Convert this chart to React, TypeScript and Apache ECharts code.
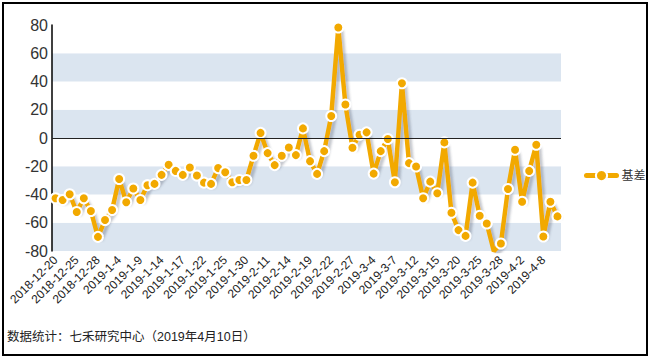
import React, { useEffect, useRef } from "react";
import * as echarts from "echarts";

const dates: string[] = [
  "2018-12-20", "2018-12-21", "2018-12-24", "2018-12-25", "2018-12-26", "2018-12-27", "2018-12-28",
  "2019-1-2", "2019-1-3", "2019-1-4", "2019-1-7", "2019-1-8", "2019-1-9", "2019-1-10", "2019-1-11",
  "2019-1-14", "2019-1-15", "2019-1-16", "2019-1-17", "2019-1-18", "2019-1-21", "2019-1-22", "2019-1-23",
  "2019-1-24", "2019-1-25", "2019-1-28", "2019-1-29", "2019-1-30", "2019-1-31", "2019-2-1",
  "2019-2-11", "2019-2-12", "2019-2-13", "2019-2-14", "2019-2-15", "2019-2-18", "2019-2-19", "2019-2-20",
  "2019-2-21", "2019-2-22", "2019-2-25", "2019-2-26", "2019-2-27", "2019-2-28", "2019-3-1",
  "2019-3-4", "2019-3-5", "2019-3-6", "2019-3-7", "2019-3-8", "2019-3-11", "2019-3-12", "2019-3-13",
  "2019-3-14", "2019-3-15", "2019-3-18", "2019-3-19", "2019-3-20", "2019-3-21", "2019-3-22",
  "2019-3-25", "2019-3-26", "2019-3-27", "2019-3-28", "2019-3-29", "2019-4-1", "2019-4-2", "2019-4-3",
  "2019-4-4", "2019-4-8", "2019-4-9", "2019-4-10",
];

const basis: number[] = [
  -42.7, -43.9, -39.8, -52.4, -42.7, -51.7, -70, -58.1, -51, -29,
  -45.5, -35.8, -43.9, -33.4, -32.5, -26.1, -19, -23.3, -26.1, -20.9,
  -26.6, -31.6, -32.5, -21.3, -24.2, -31.3, -29.7, -29.7, -12.6, 3.6,
  -10.7, -19.2, -12.6, -6.7, -12.1, 6.8, -16.4, -25.4, -9.3, 15.6,
  78.2, 23.7, -6.9, 2.3, 4, -25.2, -9.3, -0.7, -31.3, 38.8,
  -17.8, -20.2, -42.7, -30.9, -39.1, -3.1, -52.9, -65.2, -69.3, -31.6,
  -55, -60.5, -80.2, -74.7, -36.1, -8.3, -45.1, -23.3, -4.8, -69.7,
  -45.1, -55.5,
];

const seriesName = "基差";
const footnote = "数据统计：七禾研究中心（2019年4月10日）";

const FONT = "'Liberation Sans', Arial, 'Noto Sans CJK SC', sans-serif";

export default function App() {
  const ref = useRef<HTMLDivElement>(null);
  useEffect(() => {
    if (!ref.current) return;
    const chart = echarts.init(ref.current, undefined, { renderer: "svg" });
    chart.setOption({
      animation: false,
      backgroundColor: "#ffffff",
      textStyle: { fontFamily: FONT },
      grid: { left: 52, right: 90, top: 25, bottom: 110 },
      legend: {
        left: 579,
        top: 164,
        itemWidth: 30,
        itemHeight: 14,
        itemGap: 5,
        lineStyle: { width: 5, cap: "round" },
        textStyle: { fontSize: 12, color: "#333", fontFamily: FONT },
        data: [seriesName],
      },
      xAxis: {
        type: "category",
        data: dates,
        boundaryGap: true,
        axisLine: { show: false, onZero: false },
        axisTick: { show: false },
        axisLabel: {
          interval: 2,
          rotate: 45,
          fontSize: 12,
          color: "#222",
          margin: 7,
          fontFamily: FONT,
        },
        splitLine: { show: false },
      },
      yAxis: {
        type: "value",
        min: -80,
        max: 80,
        interval: 20,
        axisLine: { show: true, lineStyle: { color: "#000", width: 1.5 } },
        axisTick: { show: false },
        axisLabel: { fontSize: 16, color: "#333", margin: 4, fontFamily: FONT },
        splitLine: { show: false },
        splitArea: { show: true, areaStyle: { color: ["#dbe5f0", "#ffffff"] } },
      },
      series: [
        {
          name: seriesName,
          type: "line",
          data: basis,
          symbol: "circle",
          symbolSize: 10,
          showSymbol: true,
          showAllSymbol: true,
          lineStyle: {
            color: "#f2a900",
            width: 4.5,
            shadowColor: "rgba(60,70,90,0.3)",
            shadowBlur: 2,
            shadowOffsetX: 3,
            shadowOffsetY: 3,
          },
          itemStyle: { color: "#f2a900", borderColor: "#ffffff", borderWidth: 2 },
          markLine: {
            silent: true,
            symbol: "none",
            label: { show: false },
            lineStyle: { color: "#222", width: 1, type: "solid" },
            data: [{ yAxis: 0 }],
          },
          z: 3,
        },
      ],
      graphic: [
        {
          type: "rect",
          shape: { x: 3, y: 3, width: 644, height: 352 },
          style: { fill: "none", stroke: "#000", lineWidth: 2 },
          silent: true,
        },
        {
          type: "text",
          left: 7,
          top: 331,
          style: { text: footnote, fontSize: 12.5, fill: "#222", fontFamily: FONT },
          silent: true,
        },
      ],
    });
    return () => chart.dispose();
  }, []);
  return (
    <div
      ref={ref}
      style={{ position: "fixed", left: 0, top: 0, width: 651, height: 361 }}
    />
  );
}
